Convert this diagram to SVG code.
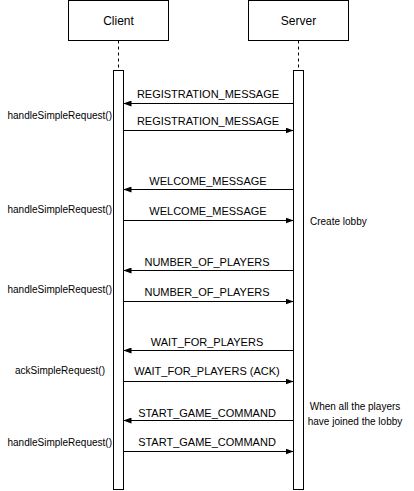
<svg xmlns="http://www.w3.org/2000/svg" width="414" height="491" viewBox="0 0 414 491">
<style>
.box{fill:#fff;stroke:#000;stroke-width:1}
.life{stroke:#000;stroke-width:1;stroke-dasharray:3 3;fill:none}
.msg{stroke:#000;stroke-width:1;fill:none}
.t{font-family:"Liberation Sans",Arial,sans-serif;fill:#000}
.hd{font-size:12px;text-anchor:middle;dominant-baseline:central}
.ml{font-size:11px;text-anchor:middle;dominant-baseline:central}
.sl{font-size:10px;dominant-baseline:central}
</style>
<defs>
<marker id="ah" viewBox="0 0 8 6" refX="8" refY="3" markerWidth="8" markerHeight="6" markerUnits="userSpaceOnUse" orient="auto">
<path d="M0,0 L8,3 L0,6 Z" fill="#000"/>
</marker>
</defs>
<g id="client">
<rect class="box" x="68.5" y="0.5" width="100" height="40"/>
<text class="t hd" x="118.5" y="20.5">Client</text>
<line class="life" x1="118.5" y1="40.5" x2="118.5" y2="70.5"/>
<rect class="box" x="113.5" y="70.5" width="10" height="419"/>
</g>
<g id="server">
<rect class="box" x="248.5" y="0.5" width="100" height="40"/>
<text class="t hd" x="298.5" y="20.5">Server</text>
<line class="life" x1="298.5" y1="40.5" x2="298.5" y2="70.5"/>
<rect class="box" x="293.5" y="70.5" width="10" height="419"/>
</g>
<g id="connectors">
<line class="msg" x1="293.5" y1="103.5" x2="123.5" y2="103.5" marker-end="url(#ah)"/>
<line class="msg" x1="123.5" y1="130.5" x2="293.5" y2="130.5" marker-end="url(#ah)"/>
<line class="msg" x1="293.5" y1="189.5" x2="123.5" y2="189.5" marker-end="url(#ah)"/>
<line class="msg" x1="123.5" y1="220.5" x2="293.5" y2="220.5" marker-end="url(#ah)"/>
<line class="msg" x1="293.5" y1="270.5" x2="123.5" y2="270.5" marker-end="url(#ah)"/>
<line class="msg" x1="123.5" y1="301.5" x2="293.5" y2="301.5" marker-end="url(#ah)"/>
<line class="msg" x1="293.5" y1="350.5" x2="123.5" y2="350.5" marker-end="url(#ah)"/>
<line class="msg" x1="123.5" y1="381.5" x2="293.5" y2="381.5" marker-end="url(#ah)"/>
<line class="msg" x1="293.5" y1="420.5" x2="123.5" y2="420.5" marker-end="url(#ah)"/>
<line class="msg" x1="123.5" y1="451.5" x2="293.5" y2="451.5" marker-end="url(#ah)"/>
</g>
<g id="labels">
<text class="t ml" x="208" y="94">REGISTRATION_MESSAGE</text>
<text class="t ml" x="208" y="121">REGISTRATION_MESSAGE</text>
<text class="t ml" x="208" y="181">WELCOME_MESSAGE</text>
<text class="t ml" x="208" y="211">WELCOME_MESSAGE</text>
<text class="t ml" x="207" y="262">NUMBER_OF_PLAYERS</text>
<text class="t ml" x="207" y="292">NUMBER_OF_PLAYERS</text>
<text class="t ml" x="207" y="342">WAIT_FOR_PLAYERS</text>
<text class="t ml" x="207" y="371">WAIT_FOR_PLAYERS (ACK)</text>
<text class="t ml" x="207" y="413">START_GAME_COMMAND</text>
<text class="t ml" x="207" y="442">START_GAME_COMMAND</text>
</g>
<g id="notes">
<text class="t sl" x="112" y="115" text-anchor="end">handleSimpleRequest()</text>
<text class="t sl" x="112" y="209" text-anchor="end">handleSimpleRequest()</text>
<text class="t sl" x="112" y="289" text-anchor="end">handleSimpleRequest()</text>
<text class="t sl" x="60" y="370" text-anchor="middle">ackSimpleRequest()</text>
<text class="t sl" x="112" y="442" text-anchor="end">handleSimpleRequest()</text>
<text class="t sl" x="310" y="221">Create lobby</text>
<text class="t sl" x="355" y="406" text-anchor="middle">When all the players</text>
<text class="t sl" x="355" y="421" text-anchor="middle">have joined the lobby</text>
</g>
</svg>
